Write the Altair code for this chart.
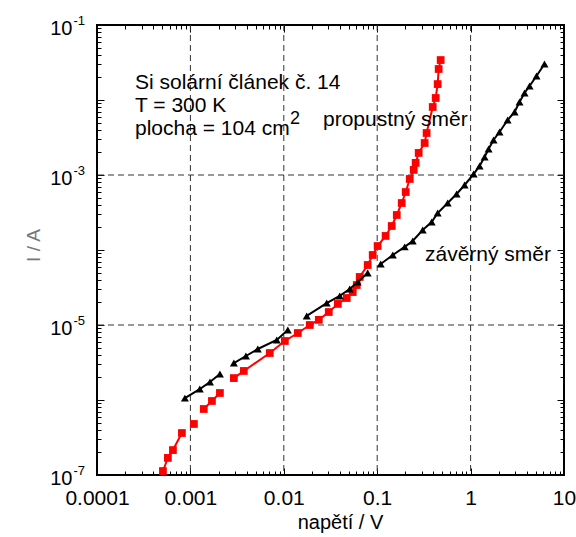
import altair as alt
import pandas as pd

# Forward direction (propustný směr): voltage [V], current [A], measurement run
fwd_voltage = [0.000508, 0.000574, 0.000650, 0.000811,
               0.00109,
               0.00139, 0.00170, 0.00207,
               0.00292, 0.00373, 0.00708, 0.01026, 0.01413, 0.01897, 0.0237, 0.0303,
               0.0379, 0.0472, 0.0547, 0.0604, 0.0650, 0.0791, 0.0895, 0.101, 0.123,
               0.143, 0.162, 0.183, 0.202, 0.223, 0.246, 0.258, 0.278, 0.322, 0.338,
               0.393, 0.423, 0.444, 0.455, 0.478]
fwd_current = [1.13e-7, 1.69e-7, 2.15e-7, 3.63e-7,
               4.79e-7,
               7.59e-7, 9.70e-7, 1.24e-6,
               1.96e-6, 2.44e-6, 4.23e-6, 6.12e-6, 7.82e-6, 1.0e-5, 1.17e-5, 1.49e-5,
               1.91e-5, 2.29e-5, 2.75e-5, 3.41e-5, 4.37e-5, 6.31e-5, 8.58e-5, 1.13e-4, 1.54e-4,
               2.09e-4, 2.93e-4, 4.23e-4, 5.93e-4, 8.85e-4, 1.17e-3, 1.45e-3, 1.97e-3, 2.67e-3, 3.63e-3,
               8.07e-3, 0.01064, 0.0163, 0.0259, 0.0341]
fwd_run = [1] * 4 + [2] + [3] * 3 + [4] * 32

# Reverse direction (závěrný směr)
rev_voltage = [0.000873, 0.00126, 0.00162, 0.00207,
               0.00292, 0.00393, 0.00527, 0.00841, 0.01104,
               0.0176, 0.0288, 0.0397, 0.0508, 0.0618, 0.0791,
               0.109, 0.147, 0.197, 0.240, 0.307, 0.383, 0.444, 0.568, 0.708, 0.863,
               1.077, 1.248, 1.412, 1.558, 1.76, 2.04, 2.49, 2.96, 3.34, 3.78, 4.28, 5.08, 6.18]
rev_current = [1.06e-6, 1.40e-6, 1.74e-6, 2.22e-6,
               3.11e-6, 3.86e-6, 4.79e-6, 6.31e-6, 8.58e-6,
               1.32e-5, 1.96e-5, 2.44e-5, 3.02e-5, 3.74e-5, 4.93e-5,
               6.50e-5, 8.58e-5, 1.10e-4, 1.32e-4, 1.85e-4, 2.36e-4, 3.11e-4, 4.23e-4, 5.58e-4, 7.36e-4,
               1.03e-3, 1.32e-3, 1.74e-3, 2.22e-3, 2.93e-3, 3.74e-3, 5.41e-3, 6.92e-3, 9.40e-3, 0.01239,
               0.01538, 0.0209, 0.0302]
rev_run = [1] * 4 + [2] * 5 + [3] * 6 + [4] * 23

# Axis tick positions
x_major = [1e-4, 1e-3, 1e-2, 1e-1, 1, 10]
x_minor = [m * 10.0 ** e for e in range(-4, 1) for m in range(2, 10)]
y_major = [1e-7, 1e-6, 1e-5, 1e-4, 1e-3, 1e-2, 1e-1]
y_minor = [m * 10.0 ** e for e in range(-7, -1) for m in range(2, 10)]
y_labelled = [1e-7, 1e-5, 1e-3, 1e-1]
x_grid = [1e-3, 1e-2, 1e-1, 1]
y_grid = [1e-5, 1e-3]

FONT = "Liberation Sans"
GRID = "#333333"

fwd = pd.DataFrame({"u": fwd_voltage, "i": fwd_current, "run": fwd_run})
rev = pd.DataFrame({"u": rev_voltage, "i": rev_current, "run": rev_run})

xs = alt.Scale(type="log", domain=[1e-4, 10], nice=False)
ys = alt.Scale(type="log", domain=[1e-7, 1e-1], nice=False)


def inner_ticks(orient, values, size):
    return alt.Axis(orient=orient, values=values, tickSize=size, offset=-size,
                    labels=False, domain=False, grid=False, title=None,
                    tickColor="black", tickWidth=1)


x_bottom_main = alt.Axis(orient="bottom", values=x_major, tickSize=7, offset=-7,
                         domain=False, grid=False, tickColor="black", tickWidth=1,
                         labelExpr="format(datum.value, '~g')",
                         labelFont=FONT, labelFontSize=21, labelColor="black",
                         labelPadding=12, labelFlush=False, labelOverlap=False,
                         labelBaseline="top",
                         title="napětí / V", titleFont=FONT, titleFontSize=20,
                         titleFontWeight="normal", titleColor="black",
                         titleX=243, titleY=60, titleAlign="center",
                         titleBaseline="alphabetic")

y_left_main = alt.Axis(orient="left", values=y_major, tickSize=7, offset=-7,
                       domain=False, grid=False, tickColor="black", tickWidth=1,
                       labelExpr="abs(round(log(datum.value) / LN10)) % 2 == 1 ? '10' : ''",
                       labelFont=FONT, labelFontSize=20, labelColor="black",
                       labelPadding=25, labelAlign="right", labelBaseline="alphabetic",
                       labelOffset=9, labelFlush=False, labelOverlap=False, title=None)

y_left_exp = alt.Axis(orient="left", values=y_labelled, ticks=False, tickSize=0,
                      domain=False, grid=False,
                      labelExpr="'-' + toString(round(-log(datum.value) / LN10))",
                      labelFont=FONT, labelFontSize=13, labelColor="black",
                      labelPadding=24, labelAlign="left", labelBaseline="alphabetic",
                      labelOffset=-1, labelFlush=False, labelOverlap=False,
                      title="I / A", titleFont=FONT, titleFontSize=19,
                      titleFontWeight="normal", titleColor="#777777",
                      titleX=-64, titleY=220, titleAngle=270,
                      titleAlign="center", titleBaseline="middle")

grid_v = alt.Chart(pd.DataFrame({"u": x_grid})).mark_rule(
    color=GRID, strokeWidth=1, strokeDash=[6, 4]
).encode(x=alt.X("u:Q", scale=xs, axis=None))

grid_h = alt.Chart(pd.DataFrame({"i": y_grid})).mark_rule(
    color=GRID, strokeWidth=1, strokeDash=[6, 4]
).encode(y=alt.Y("i:Q", scale=ys, axis=y_left_exp))

fwd_line = alt.Chart(fwd).mark_line(color="#ff0000", strokeWidth=2).encode(
    x=alt.X("u:Q", scale=xs, axis=x_bottom_main),
    y=alt.Y("i:Q", scale=ys, axis=y_left_main),
    detail="run:N",
)
fwd_pts = alt.Chart(fwd).mark_point(shape="square", filled=True, size=60,
                                    color="#ff0000", opacity=1).encode(
    x=alt.X("u:Q", scale=xs, axis=inner_ticks("bottom", x_minor, 4)),
    y=alt.Y("i:Q", scale=ys, axis=inner_ticks("left", y_minor, 4)),
)
rev_line = alt.Chart(rev).mark_line(color="black", strokeWidth=2).encode(
    x=alt.X("u:Q", scale=xs, axis=inner_ticks("top", x_major, 7)),
    y=alt.Y("i:Q", scale=ys, axis=inner_ticks("right", y_major, 7)),
    detail="run:N",
)
rev_pts = alt.Chart(rev).mark_point(shape="triangle-up", filled=True, size=64,
                                    color="black", opacity=1).encode(
    x=alt.X("u:Q", scale=xs, axis=inner_ticks("top", x_minor, 4)),
    y=alt.Y("i:Q", scale=ys, axis=inner_ticks("right", y_minor, 4)),
)


def note(text, x, y, size=21):
    return alt.Chart(alt.Data(values=[{}])).mark_text(
        text=text, font=FONT, fontSize=size, align="left", baseline="alphabetic",
        color="black"
    ).encode(x=alt.value(x), y=alt.value(y))


notes = [
    note("Si solární článek č. 14", 38, 64),
    note("T = 300 K", 38, 87),
    note("plocha = 104 cm", 38, 110),
    note("2", 193, 99, 18),
    note("propustný směr", 226, 101),
    note("závěrný směr", 328, 236),
]

chart = alt.layer(
    grid_v, grid_h, fwd_line, fwd_pts, rev_line, rev_pts, *notes
).resolve_axis(
    x="independent", y="independent"
).properties(
    width=467, height=450,
    autosize=alt.AutoSizeParams(type="none"),
    padding={"left": 97, "top": 25, "right": 12, "bottom": 62},
    background="white",
).configure_view(stroke="black", strokeWidth=2)

chart.save("out.html", embed_options={"renderer": "svg", "actions": False})
